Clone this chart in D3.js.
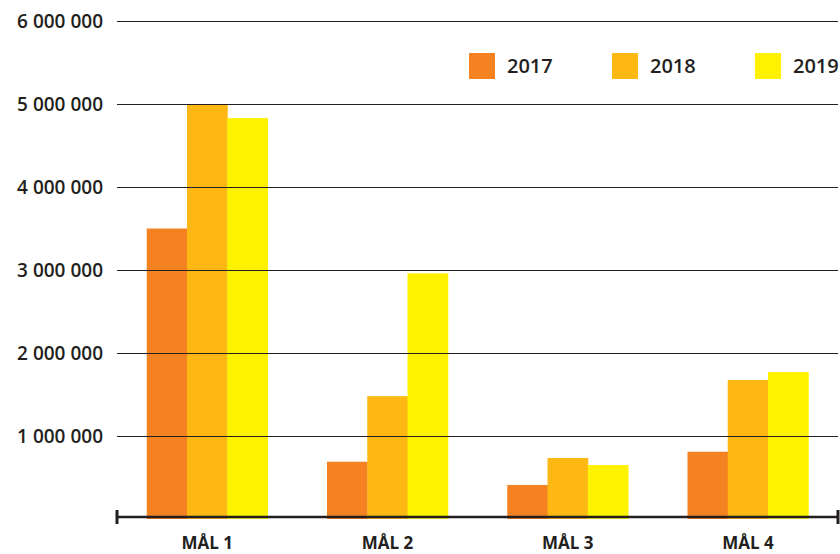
<!DOCTYPE html>
<meta charset="utf-8">
<script src="https://cdn.jsdelivr.net/npm/d3@7"></script>
<style>
  body { margin: 0; background: #fff; }
  text { font-family: "Open Sans", sans-serif; fill: #231f20; }
</style>
<body>
<div id="chart"></div>
<script>
  var categories = ["MÅL 1", "MÅL 2", "MÅL 3", "MÅL 4"];
  var years = ["2017", "2018", "2019"];
  var v2017 = [3500000, 690000, 410000, 810000];
  var v2018 = [5000000, 1480000, 735000, 1675000];
  var v2019 = [4830000, 2960000, 650000, 1770000];
  var yTicks = [1000000, 2000000, 3000000, 4000000, 5000000, 6000000];
  var colors = ["#f58220", "#fdb813", "#fff200"];

  var series = [v2017, v2018, v2019];
  var width = 840, height = 554;
  var mLeft = 117, mRight = 838, mTop = 21, mBottom = 519;

  var svg = d3.select("#chart").append("svg")
      .attr("width", width)
      .attr("height", height);

  var x = d3.scaleBand().domain(categories).range([mLeft, mRight]).paddingInner(0.33).paddingOuter(0.165);
  var x1 = d3.scaleBand().domain(years).range([0, x.bandwidth()]);
  var y = d3.scaleLinear().domain([0, 6000000]).range([mBottom, mTop]);

  var fmt = function(d) { return d3.format(",")(d).replace(/,/g, " "); };

  // bars
  var g = svg.selectAll("g.cat").data(categories)
    .enter().append("g")
      .attr("class", "cat")
      .attr("transform", function(d) { return "translate(" + x(d) + ",0)"; });

  g.selectAll("rect")
      .data(function(d, i) { return years.map(function(yr, j) { return {year: yr, value: series[j][i], j: j}; }); })
    .enter().append("rect")
      .attr("x", function(d) { return x1(d.year); })
      .attr("width", x1.bandwidth() + 0.5)
      .attr("y", function(d) { return y(d.value); })
      .attr("height", function(d) { return mBottom - y(d.value); })
      .style("fill", function(d) { return colors[d.j]; });

  // gridlines on top of bars
  svg.selectAll("line.grid").data(yTicks)
    .enter().append("line")
      .attr("class", "grid")
      .attr("x1", mLeft).attr("x2", mRight)
      .attr("y1", function(d) { return Math.round(y(d)) + 0.5; })
      .attr("y2", function(d) { return Math.round(y(d)) + 0.5; })
      .style("stroke", "#231f20")
      .style("stroke-width", 1.2);

  svg.selectAll("text.ylab").data(yTicks)
    .enter().append("text")
      .attr("class", "ylab")
      .attr("x", 103)
      .attr("y", function(d) { return y(d); })
      .attr("dy", "0.36em")
      .attr("text-anchor", "end")
      .style("font-size", "19px")
      .style("font-weight", 600)
      .text(fmt);

  // x axis
  svg.append("line")
      .attr("x1", mLeft).attr("x2", mRight)
      .attr("y1", mBottom - 2).attr("y2", mBottom - 2)
      .style("stroke", "#231f20").style("stroke-width", 2.5);
  [mLeft, mRight].forEach(function(px) {
    svg.append("line")
        .attr("x1", px).attr("x2", px)
        .attr("y1", mBottom - 9).attr("y2", mBottom + 5)
        .style("stroke", "#231f20").style("stroke-width", 3);
  });

  svg.selectAll("text.xlab").data(categories)
    .enter().append("text")
      .attr("class", "xlab")
      .attr("x", function(d) { return x(d) + x.bandwidth() / 2; })
      .attr("y", 549)
      .attr("text-anchor", "middle")
      .style("font-size", "17px")
      .style("font-weight", 700)
      .text(function(d) { return d; });

  // legend
  var lg = svg.selectAll("g.legend").data(years)
    .enter().append("g")
      .attr("class", "legend")
      .attr("transform", function(d, i) { return "translate(" + (469 + i * 143) + ",53)"; });
  lg.append("rect")
      .attr("width", 26).attr("height", 26)
      .style("fill", function(d, i) { return colors[i]; });
  lg.append("text")
      .attr("x", 38).attr("y", 13)
      .attr("dy", "0.36em")
      .style("font-size", "20px")
      .style("font-weight", 600)
      .text(function(d) { return d; });
</script>
</body>
